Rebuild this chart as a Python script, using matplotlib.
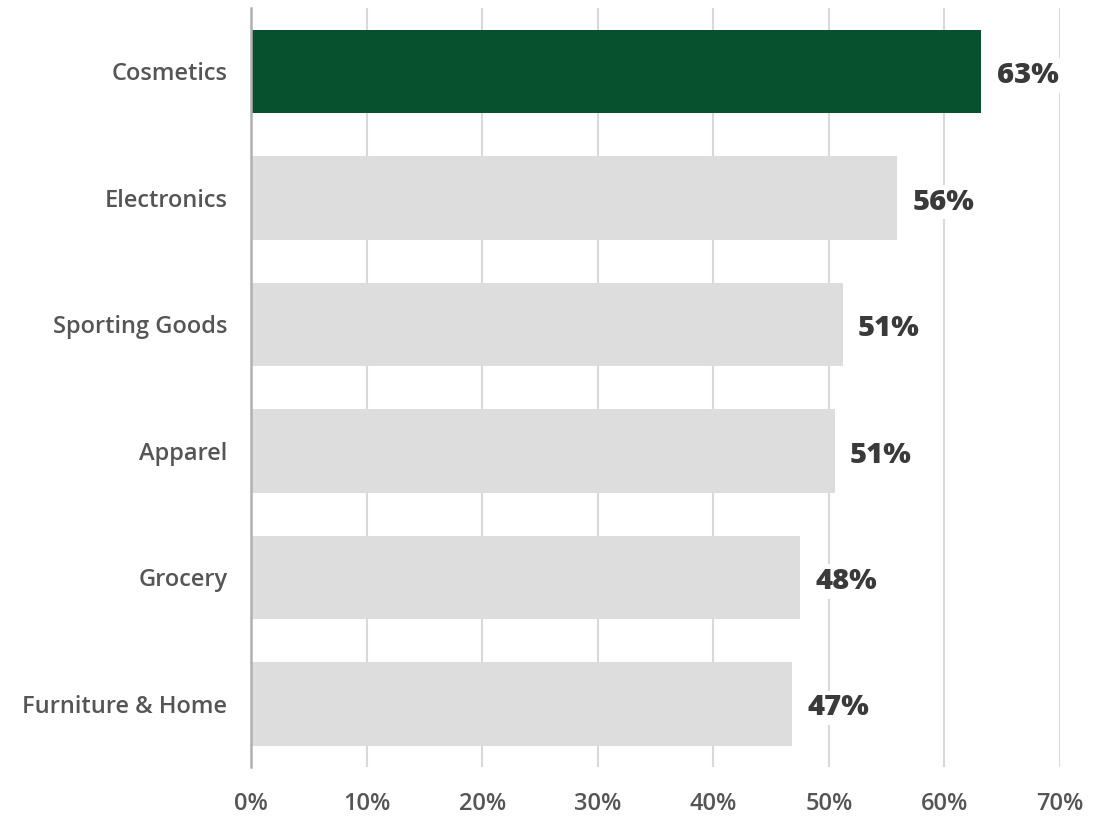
import matplotlib.pyplot as plt
import numpy as np

# Data
categories = ['Cosmetics', 'Electronics', 'Sporting Goods', 'Apparel', 'Grocery', 'Furniture & Home']
values = [63.2, 55.9, 51.2, 50.5, 47.5, 46.8]
labels = ['63%', '56%', '51%', '51%', '48%', '47%']
xticks = [0, 10, 20, 30, 40, 50, 60, 70]

plt.rcParams['font.family'] = ['Open Sans', 'DejaVu Sans']

fig = plt.figure(figsize=(11.07, 8.16), dpi=100)
ax = fig.add_axes([0.2267, 0.060, 0.7309, 0.930])

colors = ['#07512f'] + ['#dddddd'] * (len(categories) - 1)
y = np.arange(len(categories))
ax.barh(y, values, height=0.66, color=colors, zorder=2)

# value labels with white box so gridlines break behind them
for yi, v, lab in zip(y, values, labels):
    ax.annotate(lab, xy=(v, yi), xytext=(11, -3), textcoords='offset points',
                ha='left', va='center', fontsize=21, fontweight='heavy', color='#3a3a3a',
                bbox=dict(facecolor='white', edgecolor='none', pad=2), zorder=3)

ax.set_ylim(len(categories) - 0.5, -0.5)
ax.set_xlim(0, 70)
ax.set_yticks(y)
ax.set_yticklabels(categories, fontsize=17, color='#555555', fontweight='semibold')
ax.set_xticks(xticks)
ax.set_xticklabels([f'{t}%' for t in xticks], fontsize=17, color='#555555', fontweight='semibold')
ax.tick_params(axis='both', length=0)
ax.tick_params(axis='y', pad=17)
ax.tick_params(axis='x', pad=18)

ax.grid(axis='x', color='#d9d9d9', linewidth=1.5, zorder=0)
ax.set_axisbelow(True)
for s in ['top', 'right', 'bottom']:
    ax.spines[s].set_visible(False)
ax.spines['left'].set_color('#b0b0b0')
ax.spines['left'].set_linewidth(1.8)
ax.spines['left'].set_zorder(4)

plt.savefig('out.png', dpi=100, facecolor='white')
